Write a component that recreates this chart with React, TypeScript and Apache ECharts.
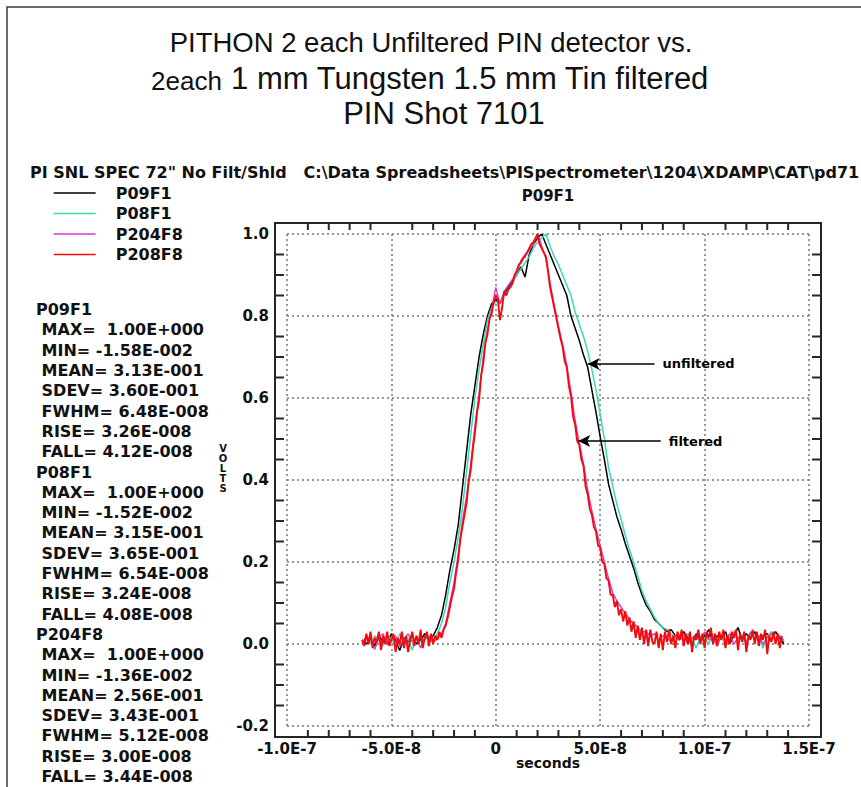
import { useEffect, useRef } from "react";
import * as echarts from "echarts";

// Sample times in nanoseconds; the axis prints them in seconds.
const TIME_NS = [
  -64, -62, -60, -58, -56, -54, -52, -50, -48, -46, -44, -42, -40, -38, -36, -34, -32,
  -30, -28, -26, -24, -22, -20, -18, -16, -14, -12, -10, -8, -6, -4, -2,
  0, 2, 4, 6, 8, 10, 12, 14, 16, 18, 20, 22, 24, 26, 28, 30, 32, 34, 36, 38,
  40, 42, 44, 46, 48, 50, 52, 54, 56, 58, 60, 62, 64, 66, 68, 70, 72, 74, 76, 78,
  80, 82, 84,
  86, 88, 90, 92, 94, 96, 98, 100, 102, 104, 106, 108, 110, 112, 114, 116, 118, 120,
  122, 124, 126, 128, 130, 132, 134, 136, 138,
];

// P208F8 is stored at a finer sampling
const TIME_NS_FINE = [
  -64, -63, -62, -61, -60, -59, -58, -57, -56, -55, -54, -53, -52, -51, -50, -49, -48,
  -47, -46, -45, -44, -43, -42, -41, -40, -39, -38, -37, -36, -35, -34, -33, -32, -31,
  -30, -29, -28, -27, -26, -25, -24, -23, -22, -21, -20, -19, -18, -17, -16, -15,
  -14, -13, -12, -11, -10, -9, -8, -7, -6, -5, -4, -3, -2, -1,
  0, 1, 2, 3, 4, 5, 6, 7, 8, 9, 10, 11, 12, 13, 14, 15, 16, 17, 18, 19, 20,
  21, 22, 23, 24, 25, 26, 27, 28, 29, 30,
  31, 32, 33, 34, 35, 36, 37, 38, 39, 40, 41, 42, 43, 44, 45, 46, 47, 48, 49, 50,
  51, 52, 53, 54, 55, 56, 57, 58, 59, 60, 61, 62, 63, 64, 65, 66, 67, 68, 69, 70,
  71, 72, 73, 74, 75,
  76, 77, 78, 79, 80, 81, 82, 83, 84, 85, 86, 87, 88, 89, 90, 91, 92, 93, 94, 95,
  96, 97, 98, 99, 100, 101, 102, 103, 104, 105, 106, 107, 108, 109, 110, 111, 112,
  113, 114, 115, 116, 117, 118, 119, 120, 121, 122, 123, 124, 125, 126, 127, 128,
  129, 130, 131, 132, 133, 134, 135, 136, 137, 138,
];

// Normalised PIN detector signals (volts)
const P09F1 = [
  0.01, 0.0, 0.015, -0.005, 0.02, 0.005, 0.0, 0.025, 0.01, -0.016, 0.015, 0.005, 0.02, 0.0, 0.01, 0.025, 0.015,
  0.02, 0.04, 0.07, 0.12, 0.18, 0.23, 0.29, 0.38, 0.47, 0.56, 0.63, 0.7, 0.755, 0.8, 0.83,
  0.84, 0.83, 0.855, 0.87, 0.885, 0.9, 0.92, 0.895, 0.95, 0.975, 0.99, 1.0, 0.975, 0.95, 0.925, 0.9, 0.875, 0.85, 0.8, 0.77,
  0.74, 0.705, 0.675, 0.62, 0.565, 0.505, 0.45, 0.39, 0.35, 0.31, 0.28, 0.245, 0.215, 0.185, 0.15, 0.12, 0.095, 0.08, 0.06, 0.05,
  0.04, 0.03, 0.035,
  0.02, 0.01, 0.03, 0.015, 0.0, 0.025, 0.01, 0.02, 0.035, 0.005, 0.02, 0.015, 0.03, 0.0, 0.02, 0.04, 0.01, 0.025,
  0.015, 0.03, 0.005, 0.02, 0.025, 0.01, 0.03, 0.015, 0.0,
];

const P08F1 = [
  0.005, 0.015, 0.0, 0.02, 0.01, -0.005, 0.02, 0.01, 0.0, 0.025, 0.005, 0.015, -0.015, 0.02, 0.005, 0.01, 0.02,
  0.01, 0.025, 0.05, 0.09, 0.15, 0.2, 0.26, 0.33, 0.42, 0.51, 0.6, 0.67, 0.73, 0.79, 0.82,
  0.835, 0.83, 0.85, 0.865, 0.88, 0.9, 0.915, 0.93, 0.945, 0.965, 0.98, 0.99, 1.0, 0.97, 0.945, 0.925, 0.9, 0.875, 0.85, 0.81,
  0.78, 0.75, 0.715, 0.67, 0.62, 0.56, 0.5, 0.43, 0.385, 0.34, 0.305, 0.265, 0.23, 0.2, 0.165, 0.13, 0.105, 0.085, 0.065, 0.05,
  0.04, 0.035, 0.025,
  0.015, 0.02, 0.005, 0.025, 0.01, -0.01, 0.02, 0.015, 0.0, 0.025, 0.01, 0.02, -0.005, 0.015, 0.03, 0.01, 0.02, 0.0,
  0.025, 0.01, 0.015, -0.01, 0.02, 0.03, 0.005, 0.02, 0.01,
];

const P204F8 = [
  0.0, 0.02, 0.01, -0.0136, 0.015, 0.025, 0.0, 0.01, 0.02, -0.005, 0.01, 0.025, 0.005, 0.015, -0.01, 0.02, 0.01,
  0.005, 0.012, 0.025, 0.05, 0.1, 0.15, 0.22, 0.3, 0.36, 0.44, 0.53, 0.61, 0.7, 0.765, 0.815,
  0.87, 0.83, 0.86, 0.875, 0.89, 0.905, 0.935, 0.95, 0.96, 0.975, 1.0, 0.97, 0.94, 0.88, 0.825, 0.775, 0.73, 0.68, 0.615, 0.545,
  0.49, 0.44, 0.375, 0.325, 0.28, 0.24, 0.2, 0.16, 0.125, 0.105, 0.09, 0.075, 0.06, 0.05, 0.04, 0.03, 0.03, 0.02, 0.025, 0.01,
  0.02, 0.015, 0.005,
  0.02, 0.01, 0.025, 0.0, 0.015, 0.02, 0.005, 0.03, 0.01, 0.015, -0.005, 0.02, 0.01, 0.025, 0.0, 0.015, 0.02, 0.005,
  0.03, 0.01, 0.02, 0.0, 0.015, 0.025, 0.01, 0.02, 0.005,
];

const P208F8 = [
  0.01, -0.005, 0.025, 0.0, 0.03, -0.01, 0.015, 0.005, 0.03, -0.015, 0.02, 0.0, 0.03, -0.005, 0.01, 0.025, -0.02,
  0.015, 0.0, 0.03, -0.01, 0.02, -0.02, 0.01, 0.03, -0.005, 0.02, 0.0, 0.035, -0.01, 0.015, 0.03, -0.005, 0.025,
  0.0, 0.02, 0.01, 0.03, 0.015, 0.035, 0.045, 0.065, 0.09, 0.115, 0.135, 0.175, 0.205, 0.255, 0.285, 0.315,
  0.345, 0.395, 0.425, 0.475, 0.515, 0.565, 0.595, 0.655, 0.685, 0.735, 0.755, 0.795, 0.805, 0.835,
  0.85, 0.84, 0.79, 0.82, 0.86, 0.85, 0.865, 0.87, 0.88, 0.9, 0.91, 0.925, 0.93, 0.94, 0.945, 0.955, 0.965, 0.975, 0.98, 0.99, 1.0,
  0.975, 0.965, 0.955, 0.945, 0.91, 0.87, 0.845, 0.82, 0.795, 0.77,
  0.745, 0.725, 0.69, 0.675, 0.63, 0.605, 0.555, 0.535, 0.495, 0.485, 0.45, 0.435, 0.385, 0.365, 0.33, 0.315, 0.285, 0.275, 0.24, 0.235,
  0.2, 0.195, 0.16, 0.155, 0.12, 0.12, 0.09, 0.105, 0.07, 0.085, 0.055, 0.08, 0.045, 0.065, 0.03, 0.055, 0.015, 0.045, 0.01, 0.04,
  0.0, 0.035, -0.005, 0.035, 0.005,
  0.0, 0.03, -0.01, 0.025, -0.015, 0.03, 0.005, 0.035, 0.0, 0.02, -0.01, 0.03, 0.01, 0.035, -0.005, 0.025, 0.0, 0.03, -0.02, 0.02,
  0.01, 0.035, 0.0, 0.025, -0.01, 0.03, 0.015, 0.04, 0.0, 0.025, -0.005, 0.03, 0.01, 0.035, -0.01, 0.02, 0.0,
  0.03, 0.015, 0.035, -0.015, 0.025, 0.005, 0.03, -0.02, 0.02, 0.01, 0.035, 0.0, 0.03, -0.005, 0.025,
  0.01, 0.035, -0.025, 0.02, 0.005, 0.03, 0.0, 0.025, -0.01, 0.02,
];

const SERIES_NAMES = ["P09F1", "P08F1", "P204F8", "P208F8"];
const SERIES_TIMES = [TIME_NS, TIME_NS, TIME_NS, TIME_NS_FINE];
const SERIES_VALUES = [P09F1, P08F1, P204F8, P208F8];
const SERIES_COLORS = ["#000000", "#3cd8b8", "#d63ad6", "#f50a0a"];
const SERIES_WIDTHS = [1.5, 1.5, 1.4, 1.9];

const X_RANGE_NS = [-100, 150];
const Y_RANGE = [-0.2, 1.0];
const X_TICKS_NS = [-100, -50, 0, 50, 100, 150];
const X_TICK_LABELS = ["-1.0E-7", "-5.0E-8", "0", "5.0E-8", "1.0E-7", "1.5E-7"];
// Minor tick positions along the frame
const X_MINOR_TICKS_NS = [
  -90, -80, -70, -60, -40, -30, -20, -10, 10, 20, 30, 40, 60, 70, 80, 90, 110, 120, 130, 140,
];
const Y_MINOR_TICKS = [
  -0.15, -0.1, -0.05, 0.05, 0.1, 0.15, 0.25, 0.3, 0.35, 0.45, 0.5, 0.55, 0.65, 0.7, 0.75, 0.85, 0.9, 0.95,
];

const STAT_LABELS = ["MAX=  ", "MIN= ", "MEAN= ", "SDEV= ", "FWHM= ", "RISE= ", "FALL= "];
const STATS_P09F1 = ["1.00E+000", "-1.58E-002", "3.13E-001", "3.60E-001", "6.48E-008", "3.26E-008", "4.12E-008"];
const STATS_P08F1 = ["1.00E+000", "-1.52E-002", "3.15E-001", "3.65E-001", "6.54E-008", "3.24E-008", "4.08E-008"];
const STATS_P204F8 = ["1.00E+000", "-1.36E-002", "2.56E-001", "3.43E-001", "5.12E-008", "3.00E-008", "3.44E-008"];
const STAT_BLOCKS: [string, string[]][] = [
  ["P09F1", STATS_P09F1],
  ["P08F1", STATS_P08F1],
  ["P204F8", STATS_P204F8],
];

const TITLE_LINE_1 = "PITHON 2 each Unfiltered PIN detector vs.";
const TITLE_LINE_2A = "2each";
const TITLE_LINE_2B = " 1 mm Tungsten 1.5 mm Tin filtered";
const TITLE_LINE_3 = "PIN Shot 7101";
const HEADER =
  'PI SNL SPEC 72" No Filt/Shld   C:\\Data Spreadsheets\\PISpectrometer\\1204\\XDAMP\\CAT\\pd71';
const PLOT_TITLE = "P09F1";
const X_NAME = "seconds";

// Arrow annotations, [ns, volts] from arrowhead to tail
const UNFILTERED_ARROW = [[44, 0.683], [76, 0.683]];
const FILTERED_ARROW = [[39.5, 0.495], [79, 0.495]];

const FONT = "DejaVu Sans";
const TITLE_FONT = "Liberation Sans";

// Plot geometry: data area plus the padding to the surrounding frame
const GRID = { left: 287, top: 234, width: 522, height: 492 };
const PAD_X = 12;
const PAD_Y = 11;
const TICK_LEN_X = 7;
const TICK_LEN_Y = 9;

// Linear value-axis mapping of the grid, used for the frame tick comb
const xPixel = (t: number) =>
  GRID.left + ((t - X_RANGE_NS[0]) / (X_RANGE_NS[1] - X_RANGE_NS[0])) * GRID.width;
const yPixel = (v: number) =>
  GRID.top + ((Y_RANGE[1] - v) / (Y_RANGE[1] - Y_RANGE[0])) * GRID.height;

export default function App() {
  const ref = useRef<HTMLDivElement>(null);

  useEffect(() => {
    document.body.style.margin = "0";
    const chart = echarts.init(ref.current!, null, { renderer: "svg" });

    const bold = (size: number) => ({
      fontFamily: FONT,
      fontWeight: "bold" as const,
      fontSize: size,
      color: "#111",
    });

    const dotted = { type: [2, 3], color: "#777", width: 1.5 };

    const arrowMark = (pts: number[][], text: string) => ({
      silent: true,
      symbol: ["arrow", "none"],
      symbolSize: [9, 12],
      lineStyle: { color: "#000", width: 1.5, type: "solid" },
      label: { show: true, position: "end", distance: 8, formatter: text, ...bold(13), color: "#000" },
      emphasis: { disabled: true },
      data: [[{ coord: pts[0] }, { coord: pts[1] }]],
    });

    const series = SERIES_NAMES.map((name, i) => ({
      name,
      type: "line",
      data: SERIES_TIMES[i].map((t, k) => [t, SERIES_VALUES[i][k]]),
      symbol: "none",
      showSymbol: false,
      silent: true,
      z: 2 + i,
      lineStyle: { color: SERIES_COLORS[i], width: SERIES_WIDTHS[i] },
      itemStyle: { color: SERIES_COLORS[i] },
      ...(i === 0 ? { markLine: arrowMark(UNFILTERED_ARROW, "unfiltered") } : {}),
      ...(i === 3 ? { markLine: arrowMark(FILTERED_ARROW, "filtered") } : {}),
    }));

    const statLines: string[] = [];
    STAT_BLOCKS.forEach(([name, vals]) => {
      statLines.push(name);
      STAT_LABELS.forEach((lab, i) => statLines.push(" " + lab + vals[i]));
    });

    const xLabel = (v: number) => {
      const i = X_TICKS_NS.indexOf(Math.round(v));
      return i >= 0 ? X_TICK_LABELS[i] : "";
    };
    const yLabel = (v: number) => (Math.abs(v) < 1e-9 ? "0.0" : v.toFixed(1));

    const text = (x: number, y: number, style: Record<string, unknown>) => ({
      type: "text",
      silent: true,
      x,
      y,
      style: { fill: "#111", textAlign: "center", textVerticalAlign: "middle", ...style },
    });

    const frameLeft = GRID.left - PAD_X;
    const frameTop = GRID.top - PAD_Y;
    const frameRight = GRID.left + GRID.width + PAD_X;
    const frameBottom = GRID.top + GRID.height + PAD_Y;

    // Each side of the frame as one polyline with inward tick teeth
    const horizontalComb = (y: number, dir: number) => {
      const pts: number[][] = [[frameLeft, y]];
      X_MINOR_TICKS_NS.forEach((t) => {
        const x = xPixel(t);
        pts.push([x, y], [x, y + dir * TICK_LEN_X], [x, y]);
      });
      pts.push([frameRight, y]);
      return pts;
    };
    const verticalComb = (x: number, dir: number) => {
      const pts: number[][] = [[x, frameBottom]];
      Y_MINOR_TICKS.forEach((v) => {
        const y = yPixel(v);
        pts.push([x, y], [x + dir * TICK_LEN_Y, y], [x, y]);
      });
      pts.push([x, frameTop]);
      return pts;
    };
    const comb = (points: number[][]) => ({
      type: "polyline",
      silent: true,
      z: 60,
      shape: { points },
      style: { stroke: "#262626", lineWidth: 2, fill: null, lineJoin: "miter" },
    });

    const graphic: any[] = [
      {
        type: "polyline",
        silent: true,
        shape: { points: [[7, 787], [7, 7], [861, 7]] },
        style: { stroke: "#3a3a3a", lineWidth: 1.5, fill: null },
      },
      {
        type: "rect",
        silent: true,
        z: 50,
        shape: { x: frameLeft, y: frameTop, width: frameRight - frameLeft, height: frameBottom - frameTop },
        style: { stroke: "#333", lineWidth: 2, fill: null },
      },
      comb(horizontalComb(frameBottom, -1)),
      comb(horizontalComb(frameTop, 1)),
      comb(verticalComb(frameLeft, 1)),
      comb(verticalComb(frameRight, -1)),
      text(431, 42, { text: TITLE_LINE_1, fontFamily: TITLE_FONT, fontSize: 27.5 }),
      text(430, 77, {
        text: `{s|${TITLE_LINE_2A}}{b|${TITLE_LINE_2B}}`,
        rich: {
          s: { fontFamily: TITLE_FONT, fontSize: 26, fill: "#111", verticalAlign: "bottom", lineHeight: 34 },
          b: { fontFamily: TITLE_FONT, fontSize: 31, fill: "#111", verticalAlign: "bottom", lineHeight: 34 },
        },
        fontFamily: TITLE_FONT,
        fontSize: 31,
      }),
      text(444, 113, { text: TITLE_LINE_3, fontFamily: TITLE_FONT, fontSize: 31 }),
      text(30, 172, { text: HEADER, fontFamily: FONT, fontWeight: "bold", fontSize: 16, textAlign: "left" }),
      text(GRID.left + GRID.width / 2, 196, { text: PLOT_TITLE, fontFamily: FONT, fontWeight: "bold", fontSize: 15 }),
      text(GRID.left + GRID.width / 2, 763, { text: X_NAME, fontFamily: FONT, fontWeight: "bold", fontSize: 14 }),
      text(36, 299.5, {
        text: statLines.join("\n"),
        fontFamily: FONT,
        fontWeight: "bold",
        fontSize: 16,
        lineHeight: 20.3,
        textAlign: "left",
        textVerticalAlign: "top",
      }),
      text(223, 468, {
        text: "V\nO\nL\nT\nS",
        fontFamily: FONT,
        fontWeight: "bold",
        fontSize: 10,
        lineHeight: 10,
      }),
    ];

    chart.setOption({
      animation: false,
      backgroundColor: "#ffffff",
      tooltip: { show: false },
      grid: { ...GRID, outerBoundsMode: "none", containLabel: false },
      legend: {
        orient: "vertical",
        left: 48,
        top: 180,
        itemWidth: 42,
        itemHeight: 14,
        itemGap: 4.5,
        selectedMode: false,
        data: SERIES_NAMES.map((name, i) => ({
          name,
          lineStyle: { color: SERIES_COLORS[i], width: 1.3 },
          itemStyle: { opacity: 0 },
        })),
        itemStyle: { opacity: 0 },
        textStyle: { ...bold(16), padding: [0, 0, 0, 15] },
      },
      xAxis: {
        type: "value",
        min: X_RANGE_NS[0],
        max: X_RANGE_NS[1],
        interval: 50,
        position: "bottom",
        offset: PAD_Y,
        axisLine: { show: false, onZero: false },
        axisTick: { show: false },
        axisLabel: { formatter: xLabel, margin: 4, ...bold(15) },
        splitLine: { show: true, lineStyle: dotted },
      },
      yAxis: {
        type: "value",
        min: Y_RANGE[0],
        max: Y_RANGE[1],
        interval: 0.2,
        position: "left",
        offset: PAD_X,
        axisLine: { show: false, onZero: false },
        axisTick: { show: false },
        axisLabel: { formatter: yLabel, margin: 6, ...bold(15) },
        splitLine: { show: true, lineStyle: dotted },
      },
      series,
      graphic,
    });

    return () => chart.dispose();
  }, []);

  return <div ref={ref} style={{ width: 861, height: 787, background: "#fff" }} />;
}
